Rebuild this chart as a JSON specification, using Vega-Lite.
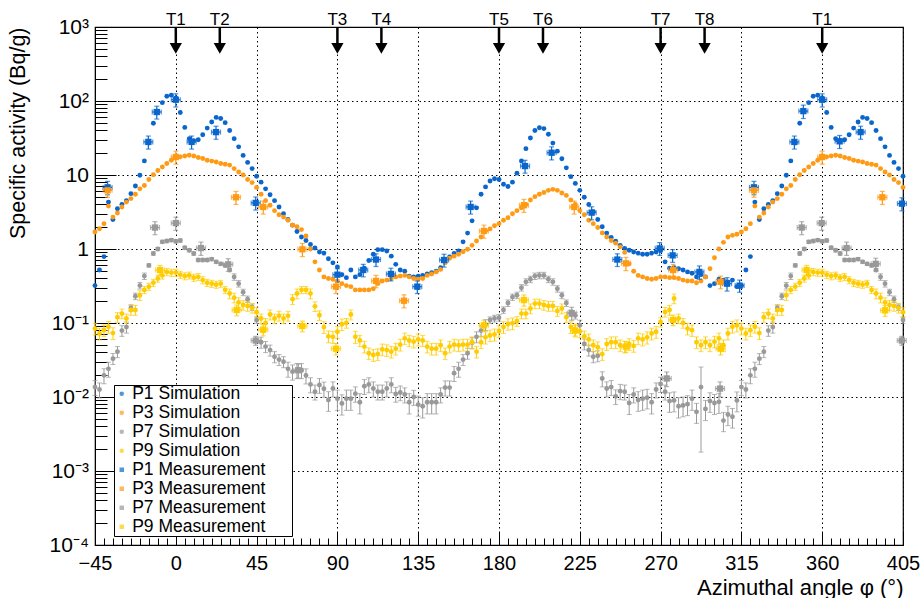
{
"$schema": "https://vega.github.io/schema/vega-lite/v6.json",
"width": 808, "height": 518,
"autosize": {"type": "none"},
"padding": {"left": 95, "top": 27, "right": 17, "bottom": 53},
"config": {
  "font": "Liberation Sans",
  "view": {"stroke": "#000", "strokeWidth": 1.2},
  "axis": {"labelFont": "Liberation Sans", "titleFont": "Liberation Sans", "labelColor": "#000", "titleColor": "#000", "domainColor": "#000", "tickColor": "#000", "gridColor": "#000", "gridDash": [1.5, 3], "gridWidth": 1, "titleFontWeight": "normal"}
},
"datasets": {
"sim": [
{"a":-45,"p1":0.32,"p3":1.7,"p7":0.0136,"p9":0.084,"e7":0.0031,"e9":0.015},
{"a":-42.5,"p1":0.52,"p3":1.88,"p7":0.0126,"p9":0.072,"e7":0.0029,"e9":0.013},
{"a":-40,"p1":0.79,"p3":2.2,"p7":0.0196,"p9":0.08,"e7":0.0045,"e9":0.014},
{"a":-37.5,"p1":4.3,"p3":3.8,"p7":0.024,"p9":0.089,"e7":0.0055,"e9":0.016},
{"a":-35,"p1":2.5,"p3":2.7,"p7":0.033,"p9":0.073,"e7":0.0056,"e9":0.013},
{"a":-32.5,"p1":3.5,"p3":3.06,"p7":0.041,"p9":0.12,"e7":0.007,"e9":0.018},
{"a":-30,"p1":4,"p3":3.7,"p7":0.079,"p9":0.134,"e7":0.013,"e9":0.02},
{"a":-27.5,"p1":4.5,"p3":4.3,"p7":0.088,"p9":0.115,"e7":0.015,"e9":0.017},
{"a":-25,"p1":5.6,"p3":4.8,"p7":0.16,"p9":0.15,"e7":0.016,"e9":0.023},
{"a":-22.5,"p1":7.1,"p3":5.5,"p7":0.23,"p9":0.15,"e7":0.023,"e9":0.023},
{"a":-20,"p1":9.9,"p3":6.5,"p7":0.32,"p9":0.237,"e7":0.032,"e9":0.036},
{"a":-17.5,"p1":15.5,"p3":7.2,"p7":0.43,"p9":0.28,"e7":0.043,"e9":0.031},
{"a":-15,"p1":27,"p3":8.7,"p7":0.6,"p9":0.31,"e7":0.03,"e9":0.034},
{"a":-12.5,"p1":50,"p3":10.1,"p7":0.87,"p9":0.35,"e7":0.044,"e9":0.039},
{"a":-10,"p1":72,"p3":11.5,"p7":1,"p9":0.4,"e7":0.05,"e9":0.044},
{"a":-7.5,"p1":95,"p3":12.8,"p7":1.25,"p9":0.44,"e7":0.063,"e9":0.048},
{"a":-5,"p1":116,"p3":14.3,"p7":1.28,"p9":0.49,"e7":0.064,"e9":0.054},
{"a":-2.5,"p1":120,"p3":15.8,"p7":1.32,"p9":0.48,"e7":0.066,"e9":0.053},
{"a":0,"p1":110,"p3":17.5,"p7":1.27,"p9":0.48,"e7":0.064,"e9":0.053},
{"a":2.5,"p1":70,"p3":17.6,"p7":1.3,"p9":0.45,"e7":0.065,"e9":0.05},
{"a":5,"p1":44,"p3":18.1,"p7":1.04,"p9":0.43,"e7":0.052,"e9":0.047},
{"a":7.5,"p1":31,"p3":18.5,"p7":0.96,"p9":0.44,"e7":0.048,"e9":0.048},
{"a":10,"p1":29,"p3":18.1,"p7":0.87,"p9":0.41,"e7":0.044,"e9":0.045},
{"a":12.5,"p1":30,"p3":17.2,"p7":0.71,"p9":0.42,"e7":0.036,"e9":0.046},
{"a":15,"p1":35,"p3":16.7,"p7":0.71,"p9":0.38,"e7":0.036,"e9":0.042},
{"a":17.5,"p1":43,"p3":15.8,"p7":0.71,"p9":0.35,"e7":0.036,"e9":0.039},
{"a":20,"p1":52,"p3":15.4,"p7":0.73,"p9":0.34,"e7":0.037,"e9":0.037},
{"a":22.5,"p1":60,"p3":15,"p7":0.67,"p9":0.33,"e7":0.034,"e9":0.036},
{"a":25,"p1":58,"p3":14.3,"p7":0.63,"p9":0.34,"e7":0.032,"e9":0.037},
{"a":27.5,"p1":51,"p3":14,"p7":0.6,"p9":0.28,"e7":0.03,"e9":0.031},
{"a":30,"p1":40,"p3":13.6,"p7":0.52,"p9":0.25,"e7":0.026,"e9":0.038},
{"a":32.5,"p1":31,"p3":12.2,"p7":0.42,"p9":0.22,"e7":0.042,"e9":0.033},
{"a":35,"p1":24,"p3":11,"p7":0.34,"p9":0.19,"e7":0.034,"e9":0.029},
{"a":37.5,"p1":18.4,"p3":10,"p7":0.26,"p9":0.175,"e7":0.026,"e9":0.026},
{"a":40,"p1":14.8,"p3":8.7,"p7":0.21,"p9":0.17,"e7":0.021,"e9":0.026},
{"a":42.5,"p1":12.2,"p3":7.9,"p7":0.164,"p9":0.16,"e7":0.016,"e9":0.024},
{"a":45,"p1":9.6,"p3":6.8,"p7":0.11,"p9":0.14,"e7":0.011,"e9":0.021},
{"a":47.5,"p1":8,"p3":5.5,"p7":0.055,"p9":0.115,"e7":0.0094,"e9":0.017},
{"a":50,"p1":6.5,"p3":4.5,"p7":0.048,"p9":0.1,"e7":0.0082,"e9":0.015},
{"a":52.5,"p1":5.4,"p3":3.9,"p7":0.043,"p9":0.13,"e7":0.0073,"e9":0.02},
{"a":55,"p1":4.5,"p3":3.3,"p7":0.035,"p9":0.115,"e7":0.006,"e9":0.017},
{"a":57.5,"p1":3.7,"p3":2.9,"p7":0.032,"p9":0.125,"e7":0.0054,"e9":0.019},
{"a":60,"p1":3,"p3":2.7,"p7":0.03,"p9":0.115,"e7":0.0051,"e9":0.017},
{"a":62.5,"p1":2.5,"p3":2.45,"p7":0.024,"p9":0.125,"e7":0.0055,"e9":0.019},
{"a":65,"p1":2.1,"p3":2.1,"p7":0.022,"p9":0.21,"e7":0.0051,"e9":0.032},
{"a":67.5,"p1":1.72,"p3":2,"p7":0.023,"p9":0.25,"e7":0.0053,"e9":0.038},
{"a":70,"p1":1.45,"p3":1.83,"p7":0.023,"p9":0.28,"e7":0.0053,"e9":0.031},
{"a":72.5,"p1":1.3,"p3":1.5,"p7":0.0195,"p9":0.28,"e7":0.0045,"e9":0.031},
{"a":75,"p1":1.15,"p3":1,"p7":0.0148,"p9":0.25,"e7":0.0034,"e9":0.038},
{"a":77.5,"p1":1.03,"p3":0.67,"p7":0.0118,"p9":0.168,"e7":0.0027,"e9":0.025},
{"a":80,"p1":0.91,"p3":0.52,"p7":0.0145,"p9":0.127,"e7":0.0033,"e9":0.019},
{"a":82.5,"p1":0.88,"p3":0.42,"p7":0.0129,"p9":0.088,"e7":0.003,"e9":0.016},
{"a":85,"p1":0.74,"p3":0.4,"p7":0.0091,"p9":0.066,"e7":0.0027,"e9":0.012},
{"a":87.5,"p1":0.65,"p3":0.39,"p7":0.013,"p9":0.065,"e7":0.003,"e9":0.012},
{"a":90,"p1":0.57,"p3":0.37,"p7":0.0095,"p9":0.076,"e7":0.0029,"e9":0.014},
{"a":92.5,"p1":0.45,"p3":0.34,"p7":0.0082,"p9":0.096,"e7":0.0025,"e9":0.017},
{"a":95,"p1":0.41,"p3":0.32,"p7":0.0095,"p9":0.1,"e7":0.0029,"e9":0.015},
{"a":97.5,"p1":0.52,"p3":0.31,"p7":0.0095,"p9":0.13,"e7":0.0029,"e9":0.02},
{"a":100,"p1":0.42,"p3":0.28,"p7":0.0111,"p9":0.065,"e7":0.0026,"e9":0.012},
{"a":102.5,"p1":0.45,"p3":0.28,"p7":0.0085,"p9":0.058,"e7":0.0026,"e9":0.01},
{"a":105,"p1":0.55,"p3":0.28,"p7":0.014,"p9":0.048,"e7":0.0032,"e9":0.0086},
{"a":107.5,"p1":0.7,"p3":0.28,"p7":0.0148,"p9":0.039,"e7":0.0034,"e9":0.007},
{"a":110,"p1":0.85,"p3":0.29,"p7":0.013,"p9":0.037,"e7":0.003,"e9":0.0067},
{"a":112.5,"p1":0.98,"p3":0.34,"p7":0.0118,"p9":0.038,"e7":0.0027,"e9":0.0068},
{"a":115,"p1":0.98,"p3":0.37,"p7":0.0118,"p9":0.044,"e7":0.0027,"e9":0.0079},
{"a":117.5,"p1":0.94,"p3":0.38,"p7":0.013,"p9":0.043,"e7":0.003,"e9":0.0077},
{"a":120,"p1":0.8,"p3":0.4,"p7":0.0148,"p9":0.041,"e7":0.0034,"e9":0.0074},
{"a":122.5,"p1":0.62,"p3":0.42,"p7":0.011,"p9":0.045,"e7":0.0025,"e9":0.0081},
{"a":125,"p1":0.52,"p3":0.43,"p7":0.0115,"p9":0.051,"e7":0.0026,"e9":0.0092},
{"a":127.5,"p1":0.5,"p3":0.44,"p7":0.0108,"p9":0.062,"e7":0.0025,"e9":0.011},
{"a":130,"p1":0.43,"p3":0.42,"p7":0.0085,"p9":0.058,"e7":0.0026,"e9":0.01},
{"a":132.5,"p1":0.42,"p3":0.4,"p7":0.01,"p9":0.056,"e7":0.0023,"e9":0.01},
{"a":135,"p1":0.43,"p3":0.39,"p7":0.0079,"p9":0.06,"e7":0.0024,"e9":0.011},
{"a":137.5,"p1":0.44,"p3":0.4,"p7":0.0075,"p9":0.058,"e7":0.0023,"e9":0.01},
{"a":140,"p1":0.46,"p3":0.44,"p7":0.0085,"p9":0.048,"e7":0.0026,"e9":0.0086},
{"a":142.5,"p1":0.48,"p3":0.46,"p7":0.0085,"p9":0.045,"e7":0.0026,"e9":0.0081},
{"a":145,"p1":0.5,"p3":0.49,"p7":0.0085,"p9":0.045,"e7":0.0026,"e9":0.0081},
{"a":147.5,"p1":0.56,"p3":0.53,"p7":0.0108,"p9":0.05,"e7":0.0025,"e9":0.009},
{"a":150,"p1":0.66,"p3":0.65,"p7":0.0134,"p9":0.039,"e7":0.0031,"e9":0.007},
{"a":152.5,"p1":0.78,"p3":0.75,"p7":0.0134,"p9":0.048,"e7":0.0031,"e9":0.0086},
{"a":155,"p1":0.87,"p3":0.8,"p7":0.021,"p9":0.051,"e7":0.0048,"e9":0.0092},
{"a":157.5,"p1":0.94,"p3":0.85,"p7":0.024,"p9":0.05,"e7":0.0055,"e9":0.009},
{"a":160,"p1":1.25,"p3":0.92,"p7":0.032,"p9":0.051,"e7":0.0054,"e9":0.0092},
{"a":162.5,"p1":1.64,"p3":0.99,"p7":0.039,"p9":0.051,"e7":0.0066,"e9":0.0092},
{"a":165,"p1":2.4,"p3":1.12,"p7":0.054,"p9":0.055,"e7":0.0092,"e9":0.0099},
{"a":167.5,"p1":3.6,"p3":1.28,"p7":0.065,"p9":0.041,"e7":0.011,"e9":0.0074},
{"a":170,"p1":5.5,"p3":1.45,"p7":0.079,"p9":0.055,"e7":0.013,"e9":0.0099},
{"a":172.5,"p1":6.9,"p3":1.75,"p7":0.095,"p9":0.064,"e7":0.016,"e9":0.012},
{"a":175,"p1":8.3,"p3":1.87,"p7":0.11,"p9":0.068,"e7":0.011,"e9":0.012},
{"a":177.5,"p1":8.9,"p3":2.06,"p7":0.115,"p9":0.07,"e7":0.012,"e9":0.013},
{"a":180,"p1":8.7,"p3":2.2,"p7":0.118,"p9":0.078,"e7":0.012,"e9":0.014},
{"a":182.5,"p1":7.5,"p3":2.45,"p7":0.15,"p9":0.088,"e7":0.015,"e9":0.016},
{"a":185,"p1":7,"p3":2.65,"p7":0.186,"p9":0.097,"e7":0.019,"e9":0.017},
{"a":187.5,"p1":8,"p3":3,"p7":0.224,"p9":0.099,"e7":0.022,"e9":0.018},
{"a":190,"p1":10.6,"p3":3.3,"p7":0.237,"p9":0.106,"e7":0.024,"e9":0.016},
{"a":192.5,"p1":15.5,"p3":3.6,"p7":0.3,"p9":0.134,"e7":0.03,"e9":0.02},
{"a":195,"p1":22.7,"p3":4,"p7":0.36,"p9":0.134,"e7":0.036,"e9":0.02},
{"a":197.5,"p1":31.6,"p3":4.6,"p7":0.39,"p9":0.157,"e7":0.039,"e9":0.024},
{"a":200,"p1":40,"p3":5.1,"p7":0.43,"p9":0.183,"e7":0.043,"e9":0.027},
{"a":202.5,"p1":43.6,"p3":5.5,"p7":0.44,"p9":0.183,"e7":0.044,"e9":0.027},
{"a":205,"p1":42.4,"p3":5.8,"p7":0.44,"p9":0.175,"e7":0.044,"e9":0.026},
{"a":207.5,"p1":35.5,"p3":6.2,"p7":0.39,"p9":0.17,"e7":0.039,"e9":0.026},
{"a":210,"p1":27,"p3":6.4,"p7":0.36,"p9":0.17,"e7":0.036,"e9":0.026},
{"a":212.5,"p1":21,"p3":6.2,"p7":0.29,"p9":0.145,"e7":0.029,"e9":0.022},
{"a":215,"p1":16.6,"p3":5.7,"p7":0.237,"p9":0.157,"e7":0.024,"e9":0.024},
{"a":217.5,"p1":12.5,"p3":5.3,"p7":0.186,"p9":0.12,"e7":0.019,"e9":0.018},
{"a":220,"p1":9.5,"p3":4.6,"p7":0.136,"p9":0.088,"e7":0.014,"e9":0.016},
{"a":222.5,"p1":7.7,"p3":4,"p7":0.126,"p9":0.082,"e7":0.013,"e9":0.015},
{"a":225,"p1":6.2,"p3":3.3,"p7":0.093,"p9":0.077,"e7":0.016,"e9":0.014},
{"a":227.5,"p1":5,"p3":2.9,"p7":0.052,"p9":0.066,"e7":0.0088,"e9":0.012},
{"a":230,"p1":4,"p3":2.45,"p7":0.043,"p9":0.06,"e7":0.0073,"e9":0.011},
{"a":232.5,"p1":3.2,"p3":2.2,"p7":0.035,"p9":0.05,"e7":0.006,"e9":0.009},
{"a":235,"p1":2.5,"p3":1.95,"p7":0.036,"p9":0.047,"e7":0.0061,"e9":0.0085},
{"a":237.5,"p1":2,"p3":1.65,"p7":0.0178,"p9":0.038,"e7":0.0041,"e9":0.0068},
{"a":240,"p1":1.64,"p3":1.45,"p7":0.013,"p9":0.052,"e7":0.003,"e9":0.0094},
{"a":242.5,"p1":1.43,"p3":1.3,"p7":0.0136,"p9":0.055,"e7":0.0031,"e9":0.0099},
{"a":245,"p1":1.27,"p3":1.2,"p7":0.0102,"p9":0.055,"e7":0.0023,"e9":0.0099},
{"a":247.5,"p1":1.12,"p3":1.07,"p7":0.012,"p9":0.05,"e7":0.0028,"e9":0.009},
{"a":250,"p1":1.02,"p3":0.9,"p7":0.0118,"p9":0.048,"e7":0.0027,"e9":0.0086},
{"a":252.5,"p1":0.96,"p3":0.63,"p7":0.0083,"p9":0.052,"e7":0.0025,"e9":0.0094},
{"a":255,"p1":0.91,"p3":0.5,"p7":0.0108,"p9":0.049,"e7":0.0025,"e9":0.0088},
{"a":257.5,"p1":0.88,"p3":0.44,"p7":0.0091,"p9":0.062,"e7":0.0027,"e9":0.011},
{"a":260,"p1":0.85,"p3":0.42,"p7":0.0095,"p9":0.06,"e7":0.0029,"e9":0.011},
{"a":262.5,"p1":0.85,"p3":0.4,"p7":0.0098,"p9":0.064,"e7":0.0029,"e9":0.012},
{"a":265,"p1":0.88,"p3":0.39,"p7":0.0085,"p9":0.072,"e7":0.0026,"e9":0.013},
{"a":267.5,"p1":0.91,"p3":0.4,"p7":0.0126,"p9":0.076,"e7":0.0029,"e9":0.014},
{"a":270,"p1":0.95,"p3":0.42,"p7":0.015,"p9":0.103,"e7":0.0035,"e9":0.015},
{"a":272.5,"p1":0.67,"p3":0.42,"p7":0.0118,"p9":0.141,"e7":0.0027,"e9":0.021},
{"a":275,"p1":0.55,"p3":0.41,"p7":0.0088,"p9":0.15,"e7":0.0026,"e9":0.023},
{"a":277.5,"p1":0.56,"p3":0.41,"p7":0.009,"p9":0.214,"e7":0.0027,"e9":0.032},
{"a":280,"p1":0.54,"p3":0.4,"p7":0.0075,"p9":0.115,"e7":0.0023,"e9":0.017},
{"a":282.5,"p1":0.52,"p3":0.38,"p7":0.0077,"p9":0.1,"e7":0.0023,"e9":0.015},
{"a":285,"p1":0.49,"p3":0.37,"p7":0.008,"p9":0.084,"e7":0.0024,"e9":0.015},
{"a":287.5,"p1":0.47,"p3":0.37,"p7":0.0095,"p9":0.08,"e7":0.0029,"e9":0.014},
{"a":290,"p1":0.42,"p3":0.35,"p7":0.0063,"p9":0.055,"e7":0.0019,"e9":0.0099},
{"a":292.5,"p1":0.45,"p3":0.37,"p7":0.0136,"p9":0.05,"e7":0.0118,"e9":0.009},
{"a":295,"p1":0.42,"p3":0.42,"p7":0.0069,"p9":0.055,"e7":0.0021,"e9":0.0099},
{"a":297.5,"p1":0.32,"p3":0.54,"p7":0.0088,"p9":0.05,"e7":0.0026,"e9":0.009},
{"a":300,"p1":0.34,"p3":0.76,"p7":0.0083,"p9":0.056,"e7":0.0025,"e9":0.01},
{"a":302.5,"p1":0.39,"p3":1,"p7":0.0086,"p9":0.062,"e7":0.0026,"e9":0.011},
{"a":305,"p1":0.38,"p3":1.23,"p7":0.0048,"p9":0.05,"e7":0.0014,"e9":0.009},
{"a":307.5,"p1":0.36,"p3":1.45,"p7":0.0058,"p9":0.072,"e7":0.0017,"e9":0.013},
{"a":310,"p1":0.38,"p3":1.53,"p7":0.0054,"p9":0.089,"e7":0.0016,"e9":0.016},
{"a":312.5,"p1":0.31,"p3":1.58,"p7":0.009,"p9":0.093,"e7":0.0027,"e9":0.017},
{"a":315,"p1":0.32,"p3":1.7,"p7":0.0136,"p9":0.084,"e7":0.0031,"e9":0.015},
{"a":317.5,"p1":0.52,"p3":1.88,"p7":0.0126,"p9":0.072,"e7":0.0029,"e9":0.013},
{"a":320,"p1":0.79,"p3":2.2,"p7":0.0196,"p9":0.08,"e7":0.0045,"e9":0.014},
{"a":322.5,"p1":4.3,"p3":3.8,"p7":0.024,"p9":0.089,"e7":0.0055,"e9":0.016},
{"a":325,"p1":2.5,"p3":2.7,"p7":0.033,"p9":0.073,"e7":0.0056,"e9":0.013},
{"a":327.5,"p1":3.5,"p3":3.06,"p7":0.041,"p9":0.12,"e7":0.007,"e9":0.018},
{"a":330,"p1":4,"p3":3.7,"p7":0.079,"p9":0.134,"e7":0.013,"e9":0.02},
{"a":332.5,"p1":4.5,"p3":4.3,"p7":0.088,"p9":0.115,"e7":0.015,"e9":0.017},
{"a":335,"p1":5.6,"p3":4.8,"p7":0.16,"p9":0.15,"e7":0.016,"e9":0.023},
{"a":337.5,"p1":7.1,"p3":5.5,"p7":0.23,"p9":0.15,"e7":0.023,"e9":0.023},
{"a":340,"p1":9.9,"p3":6.5,"p7":0.32,"p9":0.237,"e7":0.032,"e9":0.036},
{"a":342.5,"p1":15.5,"p3":7.2,"p7":0.43,"p9":0.28,"e7":0.043,"e9":0.031},
{"a":345,"p1":27,"p3":8.7,"p7":0.6,"p9":0.31,"e7":0.03,"e9":0.034},
{"a":347.5,"p1":50,"p3":10.1,"p7":0.87,"p9":0.35,"e7":0.044,"e9":0.039},
{"a":350,"p1":72,"p3":11.5,"p7":1,"p9":0.4,"e7":0.05,"e9":0.044},
{"a":352.5,"p1":95,"p3":12.8,"p7":1.25,"p9":0.44,"e7":0.063,"e9":0.048},
{"a":355,"p1":116,"p3":14.3,"p7":1.28,"p9":0.49,"e7":0.064,"e9":0.054},
{"a":357.5,"p1":120,"p3":15.8,"p7":1.32,"p9":0.48,"e7":0.066,"e9":0.053},
{"a":360,"p1":110,"p3":17.5,"p7":1.27,"p9":0.48,"e7":0.064,"e9":0.053},
{"a":362.5,"p1":70,"p3":17.6,"p7":1.3,"p9":0.45,"e7":0.065,"e9":0.05},
{"a":365,"p1":44,"p3":18.1,"p7":1.04,"p9":0.43,"e7":0.052,"e9":0.047},
{"a":367.5,"p1":31,"p3":18.5,"p7":0.96,"p9":0.44,"e7":0.048,"e9":0.048},
{"a":370,"p1":29,"p3":18.1,"p7":0.87,"p9":0.41,"e7":0.044,"e9":0.045},
{"a":372.5,"p1":30,"p3":17.2,"p7":0.71,"p9":0.42,"e7":0.036,"e9":0.046},
{"a":375,"p1":35,"p3":16.7,"p7":0.71,"p9":0.38,"e7":0.036,"e9":0.042},
{"a":377.5,"p1":43,"p3":15.8,"p7":0.71,"p9":0.35,"e7":0.036,"e9":0.039},
{"a":380,"p1":52,"p3":15.4,"p7":0.73,"p9":0.34,"e7":0.037,"e9":0.037},
{"a":382.5,"p1":60,"p3":15,"p7":0.67,"p9":0.33,"e7":0.034,"e9":0.036},
{"a":385,"p1":58,"p3":14.3,"p7":0.63,"p9":0.34,"e7":0.032,"e9":0.037},
{"a":387.5,"p1":51,"p3":14,"p7":0.6,"p9":0.28,"e7":0.03,"e9":0.031},
{"a":390,"p1":40,"p3":13.6,"p7":0.52,"p9":0.25,"e7":0.026,"e9":0.038},
{"a":392.5,"p1":31,"p3":12.2,"p7":0.42,"p9":0.22,"e7":0.042,"e9":0.033},
{"a":395,"p1":24,"p3":11,"p7":0.34,"p9":0.19,"e7":0.034,"e9":0.029},
{"a":397.5,"p1":18.4,"p3":10,"p7":0.26,"p9":0.175,"e7":0.026,"e9":0.026},
{"a":400,"p1":14.8,"p3":8.7,"p7":0.21,"p9":0.17,"e7":0.021,"e9":0.026},
{"a":402.5,"p1":12.2,"p3":7.9,"p7":0.164,"p9":0.16,"e7":0.016,"e9":0.024},
{"a":405,"p1":9.6,"p3":6.8,"p7":0.11,"p9":0.14,"e7":0.011,"e9":0.021}
],
"meas": [
{"s":"m1","a":-38,"v":6.8,"ye":1.4,"xe":2.5},
{"s":"m1","a":-15.3,"v":28,"ye":5.6,"xe":2.5},
{"s":"m1","a":-10.6,"v":71,"ye":14,"xe":2.5},
{"s":"m1","a":0,"v":104,"ye":21,"xe":2.5},
{"s":"m1","a":8.8,"v":28,"ye":5.6,"xe":2.5},
{"s":"m1","a":22.4,"v":38,"ye":7.6,"xe":2.5},
{"s":"m1","a":44.5,"v":4.2,"ye":0.84,"xe":2.5},
{"s":"m1","a":90,"v":0.45,"ye":0.09,"xe":2.5},
{"s":"m1","a":104.4,"v":0.52,"ye":0.1,"xe":2.5},
{"s":"m1","a":111.5,"v":0.72,"ye":0.14,"xe":2.5},
{"s":"m1","a":119.8,"v":0.46,"ye":0.09,"xe":2.5},
{"s":"m1","a":134.5,"v":0.31,"ye":0.06,"xe":2.5},
{"s":"m1","a":149.4,"v":0.71,"ye":0.14,"xe":2.5},
{"s":"m1","a":164.2,"v":3.7,"ye":0.74,"xe":2.5},
{"s":"m1","a":194.5,"v":13.2,"ye":2.6,"xe":2.5},
{"s":"m1","a":209.3,"v":20,"ye":4,"xe":2.5},
{"s":"m1","a":231.6,"v":3.1,"ye":0.62,"xe":2.5},
{"s":"m1","a":245.9,"v":0.72,"ye":0.14,"xe":2.5},
{"s":"m1","a":269.5,"v":1.02,"ye":0.2,"xe":2.5},
{"s":"m1","a":276.7,"v":0.82,"ye":0.16,"xe":2.5},
{"s":"m1","a":291.6,"v":0.49,"ye":0.1,"xe":2.5},
{"s":"m1","a":307,"v":0.34,"ye":0.07,"xe":2.5},
{"s":"m1","a":314,"v":0.32,"ye":0.06,"xe":2.5},
{"s":"m1","a":322,"v":6.8,"ye":1.4,"xe":2.5},
{"s":"m1","a":344.5,"v":28,"ye":5.6,"xe":2.5},
{"s":"m1","a":349.5,"v":73,"ye":15,"xe":2.5},
{"s":"m1","a":360,"v":104,"ye":21,"xe":2.5},
{"s":"m1","a":369.7,"v":28.5,"ye":5.7,"xe":2.5},
{"s":"m1","a":381.4,"v":38,"ye":7.6,"xe":2.5},
{"s":"m1","a":404.4,"v":4.1,"ye":0.82,"xe":2.5},
{"s":"m3","a":-38,"v":6.2,"ye":1.2,"xe":2.5},
{"s":"m3","a":0,"v":17.5,"ye":3.5,"xe":2.5},
{"s":"m3","a":33.5,"v":5,"ye":1,"xe":2.5},
{"s":"m3","a":48.7,"v":3.7,"ye":0.74,"xe":2.5},
{"s":"m3","a":70.5,"v":0.99,"ye":0.2,"xe":2.5},
{"s":"m3","a":89.2,"v":0.31,"ye":0.06,"xe":2.5},
{"s":"m3","a":111.5,"v":0.37,"ye":0.07,"xe":2.5},
{"s":"m3","a":127.1,"v":0.2,"ye":0.04,"xe":2.5},
{"s":"m3","a":171.6,"v":1.75,"ye":0.35,"xe":2.5},
{"s":"m3","a":193.9,"v":3.9,"ye":0.78,"xe":2.5},
{"s":"m3","a":221.9,"v":3.7,"ye":0.74,"xe":2.5},
{"s":"m3","a":250.7,"v":0.64,"ye":0.13,"xe":2.5},
{"s":"m3","a":277,"v":0.52,"ye":0.1,"xe":2.5},
{"s":"m3","a":303.4,"v":0.36,"ye":0.07,"xe":2.5},
{"s":"m3","a":322,"v":6.2,"ye":1.2,"xe":2.5},
{"s":"m3","a":360,"v":17.5,"ye":3.5,"xe":2.5},
{"s":"m3","a":393.5,"v":5,"ye":1,"xe":2.5},
{"s":"m7","a":-11.6,"v":1.95,"ye":0.39,"xe":2.5},
{"s":"m7","a":0,"v":2.24,"ye":0.45,"xe":2.5},
{"s":"m7","a":14,"v":1.03,"ye":0.21,"xe":2.5},
{"s":"m7","a":29.2,"v":0.62,"ye":0.12,"xe":2.5},
{"s":"m7","a":44.5,"v":0.058,"ye":0.008,"xe":2.5},
{"s":"m7","a":68.2,"v":0.023,"ye":0.005,"xe":2.5},
{"s":"m7","a":220.5,"v":0.136,"ye":0.027,"xe":2.5},
{"s":"m7","a":273.4,"v":0.0178,"ye":0.004,"xe":2.5},
{"s":"m7","a":303.1,"v":0.013,"ye":0.003,"xe":2.5},
{"s":"m7","a":348.6,"v":1.95,"ye":0.39,"xe":2.5},
{"s":"m7","a":359.7,"v":2.24,"ye":0.45,"xe":2.5},
{"s":"m7","a":373.6,"v":1.03,"ye":0.21,"xe":2.5},
{"s":"m7","a":389.8,"v":0.63,"ye":0.12,"xe":2.5},
{"s":"m7","a":404.3,"v":0.058,"ye":0.008,"xe":2.5},
{"s":"m9","a":-8.8,"v":0.52,"ye":0.08,"xe":2.5},
{"s":"m9","a":33.9,"v":0.15,"ye":0.025,"xe":2.5},
{"s":"m9","a":48.7,"v":0.081,"ye":0.014,"xe":2.5},
{"s":"m9","a":70.5,"v":0.091,"ye":0.015,"xe":2.5},
{"s":"m9","a":89.2,"v":0.045,"ye":0.008,"xe":2.5},
{"s":"m9","a":171.6,"v":0.093,"ye":0.016,"xe":2.5},
{"s":"m9","a":193.9,"v":0.204,"ye":0.035,"xe":2.5},
{"s":"m9","a":222.4,"v":0.079,"ye":0.014,"xe":2.5},
{"s":"m9","a":250.7,"v":0.048,"ye":0.008,"xe":2.5},
{"s":"m9","a":277,"v":0.11,"ye":0.018,"xe":2.5},
{"s":"m9","a":303.4,"v":0.045,"ye":0.008,"xe":2.5},
{"s":"m9","a":351.3,"v":0.52,"ye":0.08,"xe":2.5},
{"s":"m9","a":395,"v":0.148,"ye":0.025,"xe":2.5}
],
"arrows": [
{"a":0,"t":"T1"},{"a":24.5,"t":"T2"},{"a":90,"t":"T3"},{"a":114.5,"t":"T4"},{"a":180,"t":"T5"},{"a":204.5,"t":"T6"},{"a":270,"t":"T7"},{"a":294.5,"t":"T8"},{"a":360,"t":"T1"}
]
},
"layer": [
 {
  "encoding": {
    "x": {"field": "a", "type": "quantitative",
      "scale": {"domain": [-45, 405], "nice": false, "zero": false},
      "axis": {
        "values": [-45,-40,-35,-30,-25,-20,-15,-10,-5,0,5,10,15,20,25,30,35,40,45,50,55,60,65,70,75,80,85,90,95,100,105,110,115,120,125,130,135,140,145,150,155,160,165,170,175,180,185,190,195,200,205,210,215,220,225,230,235,240,245,250,255,260,265,270,275,280,285,290,295,300,305,310,315,320,325,330,335,340,345,350,355,360,365,370,375,380,385,390,395,400,405],
        "labelExpr": "datum.value % 45 == 0 ? datum.label : ''",
        "format": "d",
        "tickSize": {"condition": {"test": "datum.value % 45 == 0", "value": -13}, "value": -7},
        "grid": true,
        "gridOpacity": {"condition": {"test": "datum.value % 45 == 0", "value": 1}, "value": 0},
        "labelFontSize": 20, "labelFlush": false, "labelOverlap": false, "labelPadding": 21,
        "title": "Azimuthal angle φ (°)", "titleAnchor": "end", "titleFontSize": 22, "titlePadding": -2
      }},
    "y": {"field": "v", "type": "quantitative",
      "scale": {"type": "log", "domain": [0.0001, 1000], "nice": false},
      "axis": {
        "values": [0.0001,0.0002,0.0003,0.0004,0.0005,0.0006,0.0007,0.0008,0.0009,0.001,0.002,0.003,0.004,0.005,0.006,0.007,0.008,0.009,0.01,0.02,0.03,0.04,0.05,0.06,0.07,0.08,0.09,0.1,0.2,0.3,0.4,0.5,0.6,0.7,0.8,0.9,1,2,3,4,5,6,7,8,9,10,20,30,40,50,60,70,80,90,100,200,300,400,500,600,700,800,900,1000],
        "labelExpr": "datum.value == 1000 ? '10³' : datum.value == 100 ? '10²' : datum.value == 10 ? '10' : datum.value == 1 ? '1' : datum.value == 0.1 ? '10⁻¹' : datum.value == 0.01 ? '10⁻²' : datum.value == 0.001 ? '10⁻³' : datum.value == 0.0001 ? '10⁻⁴' : ''",
        "tickSize": {"condition": {"test": "indexof([0.0001,0.001,0.01,0.1,1,10,100,1000], datum.value) >= 0", "value": -21}, "value": -12},
        "grid": true,
        "gridOpacity": {"condition": {"test": "indexof([0.0001,0.001,0.01,0.1,1,10,100,1000], datum.value) >= 0", "value": 1}, "value": 0},
        "labelFontSize": 21, "labelOverlap": false, "labelPadding": 27.5,
        "title": "Specific activity (Bq/g)", "titleAnchor": "end", "titleFontSize": 21.5, "titlePadding": 20
      }},
    "color": {"field": "s", "type": "nominal",
      "scale": {"domain": ["p1","p3","p7","p9","m1","m3","m7","m9"], "range": ["#0a66cc","#ff9a14","#999999","#ffcc00","#0a66cc","#ff9a14","#999999","#ffcc00"]},
      "legend": {"orient": "none", "legendX": 19, "legendY": 358, "title": null, "strokeColor": "#000", "fillColor": "#fff", "padding": 0, "symbolOffset": -1, "labelFont": "Liberation Sans", "labelFontSize": 17.5, "labelColor": "#000", "symbolSize": 20, "symbolStrokeWidth": 0, "rowPadding": 0, "labelOffset": 1.7,
        "labelExpr": "{'p1':'P1 Simulation','p3':'P3 Simulation','p7':'P7 Simulation','p9':'P9 Simulation','m1':'P1 Measurement','m3':'P3 Measurement','m7':'P7 Measurement','m9':'P9 Measurement'}[datum.label] + '\u2800\u2800'"}},
    "shape": {"field": "s", "type": "nominal",
      "scale": {"domain": ["p1","p3","p7","p9","m1","m3","m7","m9"], "range": ["circle","circle","circle","circle","square","square","square","square"]}}
  },
  "layer": [
    {"data": {"name": "sim"}, "transform": [{"fold": ["p7"], "as": ["s", "v"]}],
     "mark": {"type": "errorbar", "ticks": {"size": 5}, "thickness": 1},
     "encoding": {"yError": {"field": "e7"}}},
    {"data": {"name": "sim"}, "transform": [{"fold": ["p9"], "as": ["s", "v"]}],
     "mark": {"type": "errorbar", "ticks": {"size": 5}, "thickness": 1},
     "encoding": {"yError": {"field": "e9"}}},
    {"data": {"name": "sim"}, "transform": [{"fold": ["p1", "p3", "p7", "p9"], "as": ["s", "v"]}],
     "mark": {"type": "point", "filled": true, "size": 24, "opacity": 1}},
    {"data": {"name": "meas"},
     "mark": {"type": "errorbar", "ticks": {"size": 5}, "thickness": 1.2},
     "encoding": {"yError": {"field": "ye"}}},
    {"data": {"name": "meas"},
     "mark": {"type": "errorbar", "ticks": {"size": 5}, "thickness": 1.2},
     "encoding": {"xError": {"field": "xe"}}},
    {"data": {"name": "meas"},
     "mark": {"type": "point", "filled": true, "size": 40, "opacity": 1}}
  ]
 },
 {"data": {"name": "arrows"},
  "mark": {"type": "rule", "strokeWidth": 2.5, "color": "#000"},
  "encoding": {
    "x": {"field": "a", "type": "quantitative",
      "scale": {"domain": [-45, 405], "nice": false, "zero": false},
      "axis": {
        "values": [-45,-40,-35,-30,-25,-20,-15,-10,-5,0,5,10,15,20,25,30,35,40,45,50,55,60,65,70,75,80,85,90,95,100,105,110,115,120,125,130,135,140,145,150,155,160,165,170,175,180,185,190,195,200,205,210,215,220,225,230,235,240,245,250,255,260,265,270,275,280,285,290,295,300,305,310,315,320,325,330,335,340,345,350,355,360,365,370,375,380,385,390,395,400,405],
        "labelExpr": "datum.value % 45 == 0 ? datum.label : ''",
        "format": "d",
        "tickSize": {"condition": {"test": "datum.value % 45 == 0", "value": -13}, "value": -7},
        "grid": true,
        "gridOpacity": {"condition": {"test": "datum.value % 45 == 0", "value": 1}, "value": 0},
        "labelFontSize": 20, "labelFlush": false, "labelOverlap": false, "labelPadding": 21,
        "title": "Azimuthal angle φ (°)", "titleAnchor": "end", "titleFontSize": 22, "titlePadding": -2
      }},
    "y": {"datum": 1000, "type": "quantitative"}, "y2": {"datum": 560}}},
 {"data": {"name": "arrows"},
  "mark": {"type": "point", "shape": "triangle-down", "filled": true, "size": 150, "opacity": 1, "color": "#000"},
  "encoding": {
    "x": {"field": "a", "type": "quantitative",
      "scale": {"domain": [-45, 405], "nice": false, "zero": false},
      "axis": {
        "values": [-45,-40,-35,-30,-25,-20,-15,-10,-5,0,5,10,15,20,25,30,35,40,45,50,55,60,65,70,75,80,85,90,95,100,105,110,115,120,125,130,135,140,145,150,155,160,165,170,175,180,185,190,195,200,205,210,215,220,225,230,235,240,245,250,255,260,265,270,275,280,285,290,295,300,305,310,315,320,325,330,335,340,345,350,355,360,365,370,375,380,385,390,395,400,405],
        "labelExpr": "datum.value % 45 == 0 ? datum.label : ''",
        "format": "d",
        "tickSize": {"condition": {"test": "datum.value % 45 == 0", "value": -13}, "value": -7},
        "grid": true,
        "gridOpacity": {"condition": {"test": "datum.value % 45 == 0", "value": 1}, "value": 0},
        "labelFontSize": 20, "labelFlush": false, "labelOverlap": false, "labelPadding": 21,
        "title": "Azimuthal angle φ (°)", "titleAnchor": "end", "titleFontSize": 22, "titlePadding": -2
      }},
    "y": {"datum": 515, "type": "quantitative"}}},
 {"data": {"name": "arrows"},
  "mark": {"type": "text", "baseline": "alphabetic", "dy": -2, "fontSize": 17, "font": "Liberation Sans", "color": "#000"},
  "encoding": {
    "x": {"field": "a", "type": "quantitative",
      "scale": {"domain": [-45, 405], "nice": false, "zero": false},
      "axis": {
        "values": [-45,-40,-35,-30,-25,-20,-15,-10,-5,0,5,10,15,20,25,30,35,40,45,50,55,60,65,70,75,80,85,90,95,100,105,110,115,120,125,130,135,140,145,150,155,160,165,170,175,180,185,190,195,200,205,210,215,220,225,230,235,240,245,250,255,260,265,270,275,280,285,290,295,300,305,310,315,320,325,330,335,340,345,350,355,360,365,370,375,380,385,390,395,400,405],
        "labelExpr": "datum.value % 45 == 0 ? datum.label : ''",
        "format": "d",
        "tickSize": {"condition": {"test": "datum.value % 45 == 0", "value": -13}, "value": -7},
        "grid": true,
        "gridOpacity": {"condition": {"test": "datum.value % 45 == 0", "value": 1}, "value": 0},
        "labelFontSize": 20, "labelFlush": false, "labelOverlap": false, "labelPadding": 21,
        "title": "Azimuthal angle φ (°)", "titleAnchor": "end", "titleFontSize": 22, "titlePadding": -2
      }},
    "y": {"datum": 1000, "type": "quantitative"}, "text": {"field": "t"}}}
]
}
